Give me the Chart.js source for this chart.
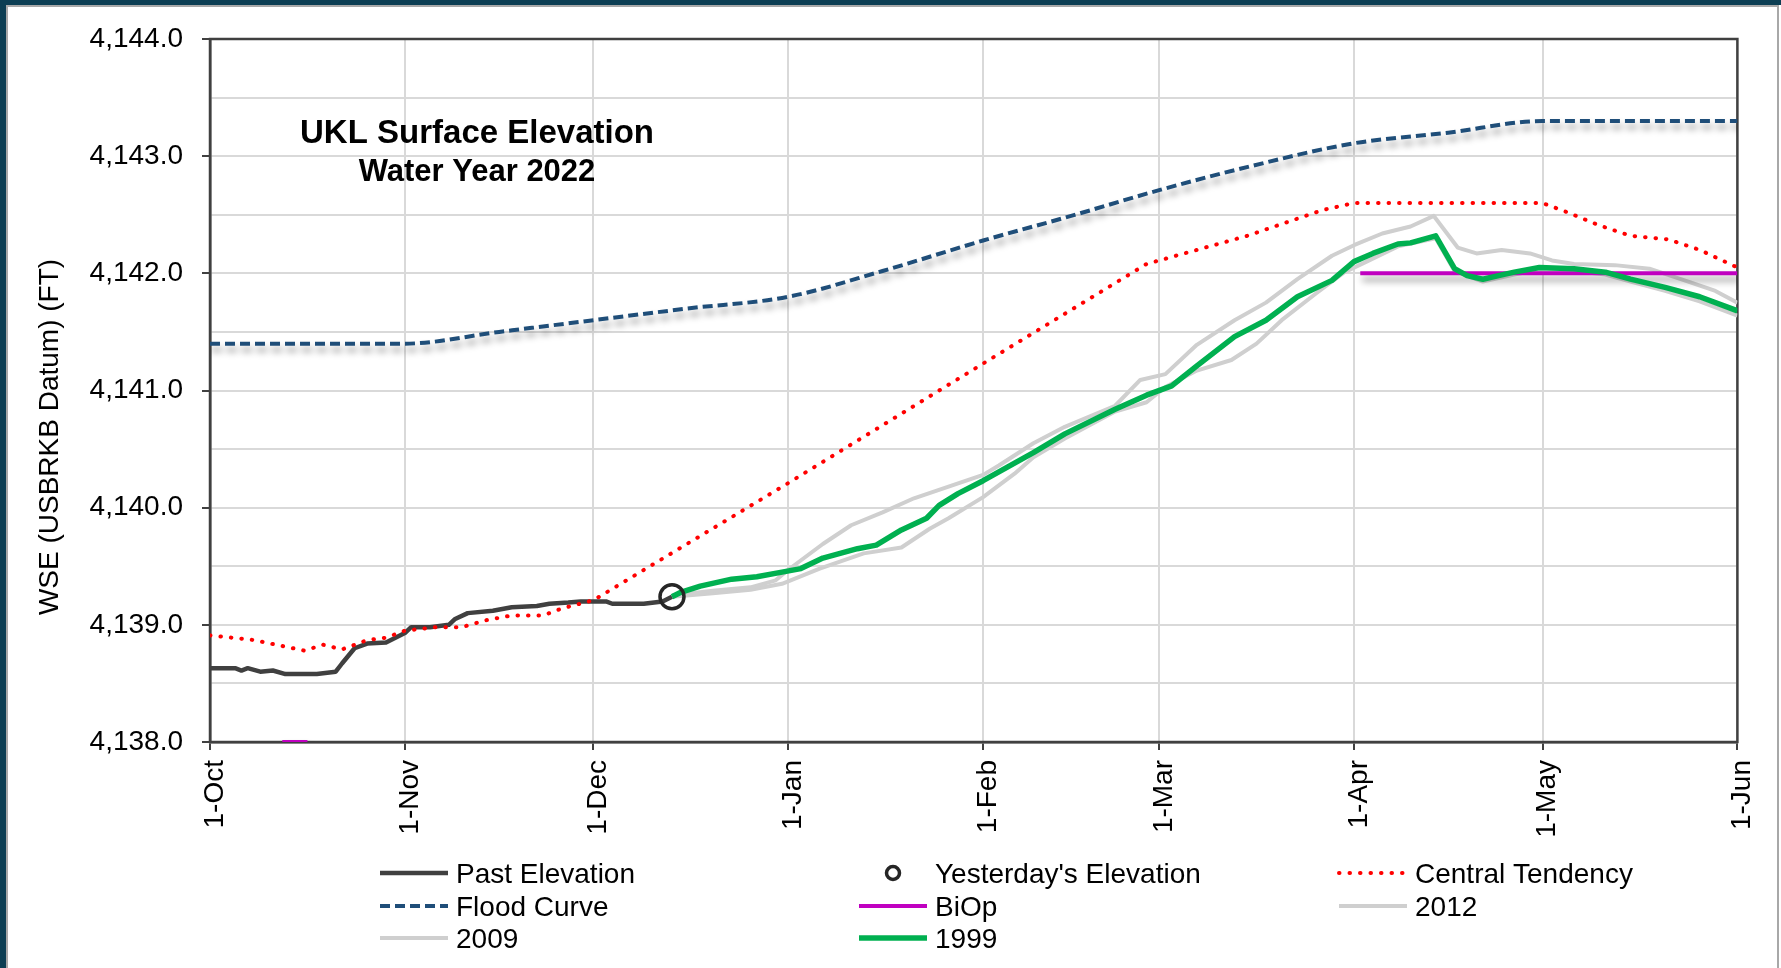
<!DOCTYPE html>
<html>
<head>
<meta charset="utf-8">
<title>UKL Surface Elevation - Water Year 2022</title>
<script src="https://cdn.jsdelivr.net/npm/chart.js@4.4.0/dist/chart.umd.min.js"></script>
<style>
  html, body { margin: 0; padding: 0; background: #fff; }
  #wrap { position: relative; width: 1781px; height: 968px; overflow: hidden; background: #fff; }
  #chart { position: absolute; left: 0; top: 0; }
  .band { position: absolute; background: #0c3e53; }
  .edge { position: absolute; background: #a8a8a8; }
</style>
</head>
<body>
<div id="wrap">
  <canvas id="chart" width="1781" height="968"></canvas>
  <div class="band" style="left:0;top:0;width:1781px;height:5px"></div>
  <div class="band" style="left:0;top:0;width:6px;height:968px"></div>
  <div class="edge" style="left:6px;top:5px;width:1773px;height:2px"></div>
  <div class="edge" style="left:6px;top:5px;width:2px;height:963px"></div>
  <div class="edge" style="left:1777px;top:5px;width:2px;height:963px"></div>
</div>
<script>
/* ------------------------------------------------------------
   DATA  (x = days since 1-Oct, y = elevation in ft)
   ------------------------------------------------------------ */
const monthDays   = [0, 31, 61, 92, 123, 151, 182, 212, 243];
const monthLabels = ["1-Oct", "1-Nov", "1-Dec", "1-Jan", "1-Feb", "1-Mar", "1-Apr", "1-May", "1-Jun"];

const pastDays = [0, 4, 5, 6, 8, 10, 12, 17, 20, 21, 23, 25, 28, 31, 32, 35, 38, 39, 41, 45,
                  48, 52, 54, 57, 59, 63, 64, 69, 72, 73.5];
const pastElev = [4138.63, 4138.63, 4138.61, 4138.63, 4138.60, 4138.61, 4138.58, 4138.58, 4138.60, 4138.67,
                  4138.80, 4138.84, 4138.85, 4138.93, 4138.98, 4138.98, 4139.00, 4139.05, 4139.10, 4139.12,
                  4139.15, 4139.16, 4139.18, 4139.19, 4139.20, 4139.20, 4139.18, 4139.18, 4139.20, 4139.24];

const yesterdayDays = [73.5];
const yesterdayElev = [4139.24];

const centralDays = [0, 7, 15, 18, 21, 25, 28, 31, 36, 40, 44, 48, 53, 56, 61, 92, 123, 149,
                     165, 177, 182, 212, 216, 221, 226, 232, 237, 243];
const centralElev = [4138.91, 4138.87, 4138.78, 4138.83, 4138.79, 4138.87, 4138.89, 4138.95, 4138.98, 4138.98,
                     4139.04, 4139.08, 4139.08, 4139.14, 4139.21, 4140.21, 4141.23, 4142.08,
                     4142.32, 4142.54, 4142.60, 4142.60, 4142.52, 4142.41, 4142.32, 4142.29, 4142.20, 4142.05];

const floodDays = [0, 31, 46, 61, 76, 92, 107, 123, 137, 151, 166, 182, 197, 212, 243];
const floodElev = [4141.40, 4141.40, 4141.50, 4141.60, 4141.70, 4141.80, 4142.02, 4142.28, 4142.49, 4142.71,
                   4142.92, 4143.11, 4143.20, 4143.30, 4143.30];

const biopDays = [11.5, 15.5, 16, 183, 243];
const biopElev = [4138.0, 4138.0, null, 4142.0, 4142.0];

const y2012Days = [73.5, 80, 86, 90, 92, 97.5, 102, 107, 112, 117.5, 123, 125.5, 131, 136, 144, 148, 152, 157,
                   163, 168, 173, 178.5, 182, 186.5, 191, 194.7, 198.5, 201.5, 205.5, 210, 213.5, 217,
                   223.5, 229, 234, 239.5, 243];
const y2012Elev = [4139.25, 4139.29, 4139.32, 4139.38, 4139.47, 4139.69, 4139.85, 4139.96, 4140.08, 4140.18,
                   4140.28, 4140.36, 4140.55, 4140.69, 4140.87, 4141.09, 4141.14, 4141.39, 4141.60, 4141.75,
                   4141.95, 4142.15, 4142.24, 4142.34, 4142.40, 4142.49, 4142.22, 4142.17, 4142.20, 4142.17,
                   4142.11, 4142.08, 4142.07, 4142.04, 4141.95, 4141.85, 4141.75];

const y2009Days = [73.5, 80, 86, 91, 97, 104, 110, 114.5, 117.5, 123, 128, 131, 136, 144, 149, 152, 157, 162.5,
                   166.5, 170.5, 176, 180.5, 184, 189, 195, 198, 202.5, 207.5, 211.5, 217, 222, 226, 231.5, 237, 243];
const y2009Elev = [4139.24, 4139.27, 4139.30, 4139.35, 4139.48, 4139.61, 4139.66, 4139.82, 4139.91, 4140.09,
                   4140.29, 4140.43, 4140.59, 4140.82, 4140.90, 4141.03, 4141.17, 4141.26, 4141.40, 4141.60,
                   4141.83, 4142.01, 4142.10, 4142.23, 4142.30, 4142.02, 4141.93, 4141.99, 4142.03, 4142.02,
                   4141.99, 4141.93, 4141.85, 4141.76, 4141.64];

const y1999Days = [73.5, 75, 78, 83, 87, 91, 94, 97.5, 103, 106, 110, 114, 116, 119, 123, 127, 131, 136, 144,
                   149, 153, 157, 163, 168, 173, 178.5, 182, 185, 189, 191, 195, 198, 200, 202.5, 205, 207.5,
                   211.5, 217, 222, 226, 231.5, 237, 243];
const y1999Elev = [4139.24, 4139.28, 4139.33, 4139.39, 4139.41, 4139.45, 4139.48, 4139.57, 4139.65, 4139.68,
                   4139.81, 4139.91, 4140.02, 4140.12, 4140.23, 4140.35, 4140.47, 4140.63, 4140.84, 4140.96,
                   4141.04, 4141.21, 4141.46, 4141.60, 4141.80, 4141.94, 4142.10, 4142.17, 4142.25, 4142.26,
                   4142.32, 4142.04, 4141.98, 4141.95, 4141.98, 4142.01, 4142.05, 4142.04, 4142.01, 4141.95,
                   4141.88, 4141.80, 4141.68];

/* ------------------------------------------------------------
   HELPERS / PLUGINS
   ------------------------------------------------------------ */
const FONT = "'Liberation Sans', Arial, sans-serif";

function toPoints(days, elev) {
    return days.map((d, i) => ({ x: d, y: elev[i] }));
}

function fmtElev(v) {
    return v.toLocaleString("en-US", { minimumFractionDigits: 1, maximumFractionDigits: 1 });
}

// box around the plot area (Excel style)
const plotFrame = {
    id: "plotFrame",
    beforeDatasetsDraw(chart) {
        const { ctx, chartArea: a } = chart;
        ctx.save();
        ctx.strokeStyle = "#404040";
        ctx.lineWidth = 2.5;
        ctx.strokeRect(a.left, a.top, a.right - a.left, a.bottom - a.top);
        ctx.restore();
    }
};

// soft drop shadow for datasets flagged with shadow: true
const lineShadow = {
    id: "lineShadow",
    beforeDatasetDraw(chart, args) {
        if (!chart.data.datasets[args.index].shadow) return;
        const ctx = chart.ctx;
        ctx.save();
        ctx.shadowColor = "rgba(0,0,0,0.4)";
        ctx.shadowBlur = 7;
        ctx.shadowOffsetX = 2;
        ctx.shadowOffsetY = 6;
    },
    afterDatasetDraw(chart, args) {
        if (chart.data.datasets[args.index].shadow) chart.ctx.restore();
    }
};

// chart title inside the plot + rotated y axis title
const titles = {
    id: "titles",
    afterDraw(chart) {
        const ctx = chart.ctx;
        ctx.save();
        ctx.fillStyle = "#000";
        ctx.textAlign = "center";
        ctx.textBaseline = "alphabetic";
        ctx.font = "bold 33px " + FONT;
        ctx.fillText("UKL Surface Elevation", 477, 143);
        ctx.font = "bold 31px " + FONT;
        ctx.fillText("Water Year 2022", 477, 181);

        ctx.translate(50, 437);
        ctx.rotate(-Math.PI / 2);
        ctx.font = "28px " + FONT;
        ctx.textBaseline = "middle";
        ctx.fillText("WSE (USBRKB Datum) (FT)", 0, 0);
        ctx.restore();
    }
};

// three-column legend below the axis
const gridLegend = {
    id: "gridLegend",
    afterDraw(chart) {
        const ctx = chart.ctx;
        const colX = [380, 859, 1339];
        const rowY = [883, 916, 948];
        const lineLen = 68;
        ctx.save();
        ctx.font = "28px " + FONT;
        ctx.fillStyle = "#000";
        ctx.textAlign = "left";
        ctx.textBaseline = "alphabetic";
        chart.data.datasets.forEach((ds, i) => {
            const x = colX[i % 3];
            const base = rowY[Math.floor(i / 3)];
            const cy = base - 10;
            ctx.save();
            if (ds.showLine === false) {
                ctx.beginPath();
                ctx.arc(x + lineLen / 2, cy, 6.5, 0, Math.PI * 2);
                ctx.lineWidth = 3.5;
                ctx.strokeStyle = ds.pointBorderColor;
                ctx.stroke();
            } else {
                ctx.beginPath();
                ctx.setLineDash(ds.borderDash || []);
                ctx.lineCap = ds.borderCapStyle || "butt";
                ctx.lineWidth = ds.borderWidth;
                ctx.strokeStyle = ds.borderColor;
                ctx.moveTo(x, cy);
                ctx.lineTo(x + lineLen, cy);
                ctx.stroke();
            }
            ctx.restore();
            ctx.fillText(ds.label, x + lineLen + 8, base);
        });
        ctx.restore();
    }
};

/* ------------------------------------------------------------
   CHART
   ------------------------------------------------------------ */
Chart.defaults.font.family = FONT;
Chart.defaults.font.size = 28;
Chart.defaults.color = "#000";

const canvas = document.getElementById("chart");

new Chart(canvas, {
    type: "line",
    data: {
        datasets: [
            {
                label: "Past Elevation",
                data: toPoints(pastDays, pastElev),
                borderColor: "#404040",
                borderWidth: 4.5,
                order: 3
            },
            {
                label: "Yesterday's Elevation",
                data: toPoints(yesterdayDays, yesterdayElev),
                showLine: false,
                pointRadius: 12,
                pointBorderWidth: 3.5,
                pointBorderColor: "#262626",
                pointBackgroundColor: "rgba(0,0,0,0)",
                borderColor: "#262626",
                order: 0
            },
            {
                label: "Central Tendency",
                data: toPoints(centralDays, centralElev),
                borderColor: "#ff0000",
                borderWidth: 4,
                borderDash: [0.5, 10],
                borderCapStyle: "round",
                order: 2
            },
            {
                label: "Flood Curve",
                data: toPoints(floodDays, floodElev),
                borderColor: "#1f4e79",
                borderWidth: 4,
                borderDash: [10, 5],
                cubicInterpolationMode: "monotone",
                shadow: true,
                order: 5
            },
            {
                label: "BiOp",
                data: toPoints(biopDays, biopElev),
                borderColor: "#c000c0",
                borderWidth: 4,
                spanGaps: false,
                shadow: true,
                order: 4
            },
            {
                label: "2012",
                data: toPoints(y2012Days, y2012Elev),
                borderColor: "#cfcfcf",
                borderWidth: 4,
                order: 6
            },
            {
                label: "2009",
                data: toPoints(y2009Days, y2009Elev),
                borderColor: "#cfcfcf",
                borderWidth: 4,
                order: 7
            },
            {
                label: "1999",
                data: toPoints(y1999Days, y1999Elev),
                borderColor: "#00b050",
                borderWidth: 5.5,
                order: 1
            }
        ]
    },
    options: {
        responsive: false,
        animation: false,
        elements: {
            point: { radius: 0 },
            line: { tension: 0, borderJoinStyle: "round" }
        },
        layout: { padding: { left: 0, top: 39, right: 42, bottom: 0 } },
        plugins: {
            legend: { display: false },
            tooltip: { enabled: false }
        },
        scales: {
            x: {
                type: "linear",
                min: 0,
                max: 243,
                afterBuildTicks(scale) {
                    scale.ticks = monthDays.map(v => ({ value: v }));
                },
                afterFit(scale) {
                    scale.height = 226;
                },
                ticks: {
                    autoSkip: false,
                    minRotation: 90,
                    maxRotation: 90,
                    padding: 10,
                    labelOffset: 5,
                    color: "#000",
                    callback: v => monthLabels[monthDays.indexOf(v)] || ""
                },
                grid: {
                    color: "#d9d9d9",
                    lineWidth: 2,
                    tickColor: "#404040",
                    tickLength: 8
                },
                border: { color: "#404040", width: 2.5 }
            },
            y: {
                min: 4138,
                max: 4144,
                afterFit(scale) {
                    scale.width = 210;
                },
                ticks: {
                    stepSize: 0.5,
                    padding: 19,
                    color: "#000",
                    callback: v => Number.isInteger(v) ? fmtElev(v) : ""
                },
                grid: {
                    color: "#d9d9d9",
                    lineWidth: 2,
                    tickLength: 8,
                    tickColor: c => (c.tick && Number.isInteger(c.tick.value)) ? "#404040" : "rgba(0,0,0,0)"
                },
                border: { color: "#404040", width: 2.5 }
            }
        }
    },
    plugins: [plotFrame, lineShadow, titles, gridLegend]
});
</script>
</body>
</html>
